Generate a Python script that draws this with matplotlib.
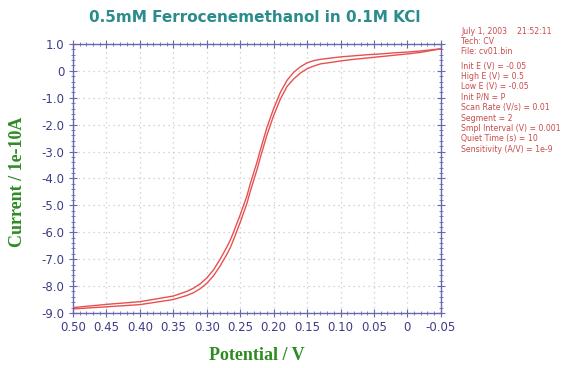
import numpy as np
import matplotlib.pyplot as plt
from matplotlib.ticker import MultipleLocator, FixedLocator

# potentials (V) and the two branches of the voltammogram (current / 1e-10 A)
potential = [0.50, 0.45, 0.40, 0.35, 0.33, 0.32, 0.31, 0.30, 0.29, 0.28, 0.27,
             0.265, 0.26, 0.25, 0.24, 0.235, 0.23, 0.225, 0.22, 0.21, 0.20,
             0.19, 0.18, 0.17, 0.16, 0.15, 0.14, 0.13, 0.11, 0.10, 0.08,
             0.06, 0.04, 0.02, 0.0, -0.02, -0.05]
branch_upper = [-8.80, -8.68, -8.58, -8.37, -8.20, -8.08, -7.92, -7.70, -7.40, -7.00, -6.55,
                -6.30, -6.00, -5.35, -4.65, -4.20, -3.80, -3.40, -2.95, -2.10, -1.40,
                -0.80, -0.35, -0.05, 0.15, 0.30, 0.38, 0.43, 0.49, 0.52, 0.56,
                0.60, 0.63, 0.67, 0.70, 0.74, 0.82]
branch_lower = [-8.85, -8.77, -8.69, -8.50, -8.35, -8.25, -8.10, -7.90, -7.62, -7.25, -6.82,
                -6.58, -6.28, -5.63, -4.93, -4.48, -4.08, -3.68, -3.23, -2.38, -1.66,
                -1.05, -0.58, -0.30, -0.08, 0.08, 0.18, 0.26, 0.33, 0.37, 0.43,
                0.48, 0.53, 0.58, 0.63, 0.69, 0.82]

x_ticks = [0.50, 0.45, 0.40, 0.35, 0.30, 0.25, 0.20, 0.15, 0.10, 0.05, 0.0, -0.05]
x_labels = ['0.50', '0.45', '0.40', '0.35', '0.30', '0.25', '0.20', '0.15', '0.10', '0.05', '0', '-0.05']
y_ticks = [1, 0, -1, -2, -3, -4, -5, -6, -7, -8, -9]
y_labels = ['1.0', '0', '-1.0', '-2.0', '-3.0', '-4.0', '-5.0', '-6.0', '-7.0', '-8.0', '-9.0']

info_lines = ['July 1, 2003    21:52:11', 'Tech: CV', 'File: cv01.bin', None,
              'Init E (V) = -0.05', 'High E (V) = 0.5', 'Low E (V) = -0.05',
              'Init P/N = P', 'Scan Rate (V/s) = 0.01', 'Segment = 2',
              'Smpl Interval (V) = 0.001', 'Quiet Time (s) = 10',
              'Sensitivity (A/V) = 1e-9']

frame_col = '#6868b0'
tick_col = '#3c3c88'
label_col = '#2e8b22'

fig = plt.figure(figsize=(5.73, 3.68), dpi=100)
ax = fig.add_axes([0.1274, 0.1495, 0.642, 0.731])

ax.plot(potential, branch_upper, color='#e85050', lw=1.0)
ax.plot(potential, branch_lower, color='#e85050', lw=1.0)

ax.set_xlim(0.5, -0.05)
ax.set_ylim(-9, 1)
ax.xaxis.set_major_locator(FixedLocator(x_ticks))
ax.set_xticklabels(x_labels)
ax.yaxis.set_major_locator(FixedLocator(y_ticks))
ax.set_yticklabels(y_labels)
ax.xaxis.set_minor_locator(MultipleLocator(0.01))
ax.yaxis.set_minor_locator(MultipleLocator(0.2))

ax.grid(True, which='major', color='#c8c8c8', ls=(0, (1, 3)), lw=0.9)
for s in ax.spines.values():
    s.set_color(frame_col)
    s.set_linewidth(1.0)
ax.tick_params(which='both', direction='inout', color=frame_col, top=True, right=True,
               labelcolor=tick_col, labelsize=8.5)
ax.tick_params(which='major', length=6, pad=3)
ax.tick_params(which='minor', length=3.5)

fig.text(0.445, 0.953, '0.5mM Ferrocenemethanol in 0.1M KCl', ha='center', va='center',
         color='#2a8c8c', fontsize=11, fontweight='bold')
fig.text(257 / 573, 1 - 355 / 368, 'Potential / V', family='Liberation Serif',
         fontweight='bold', fontsize=13, color=label_col, ha='center', va='center')
fig.text(18 / 573, 1 - 182 / 368, 'Current / 1e-10A', family='Liberation Serif',
         fontweight='bold', fontsize=13, color=label_col, ha='center', va='center',
         rotation=90)

y = 368 - 31
for line in info_lines:
    if line is None:
        y -= 4
        continue
    fig.text(461 / 573, y / 368, line, ha='left', va='center', color='#c84a4a', fontsize=5.6)
    y -= 10.4

fig.savefig('out.png', dpi=100, facecolor='white')
